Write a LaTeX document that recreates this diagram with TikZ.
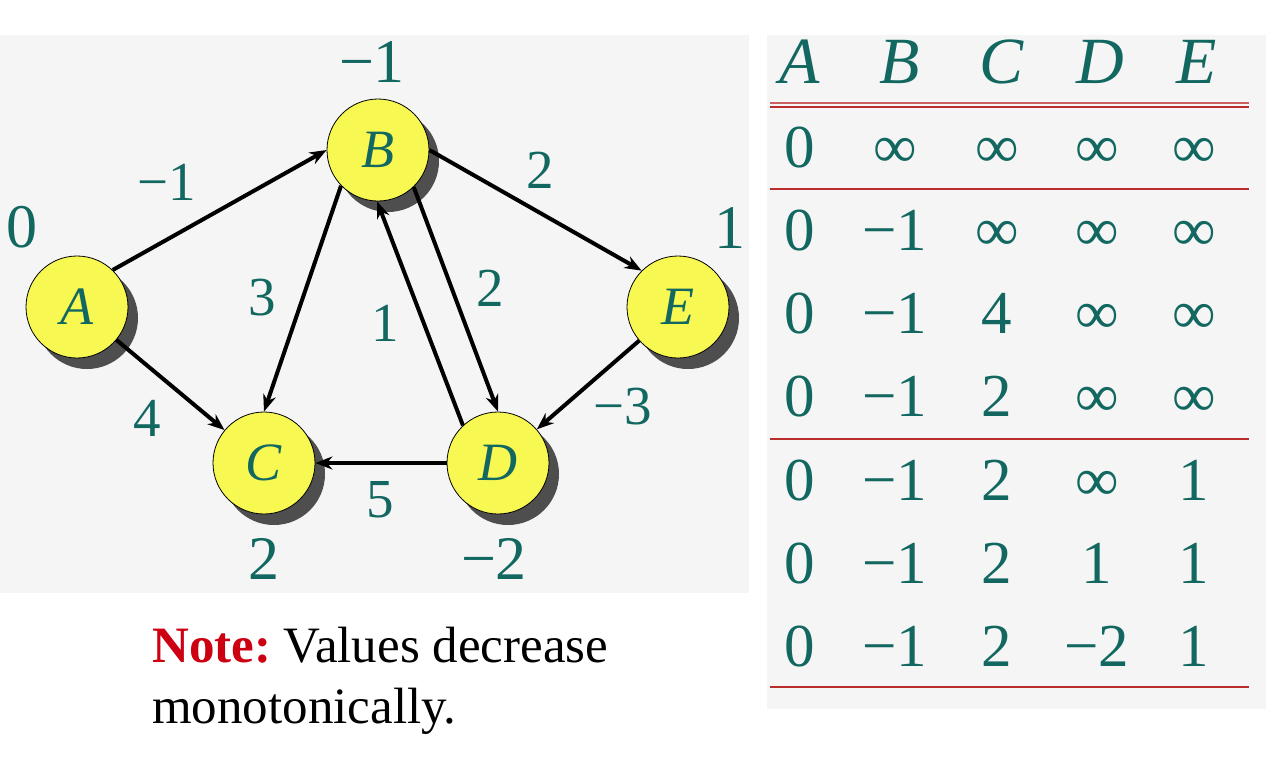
\documentclass[tikz,border=0pt]{standalone}
\usepackage{fontspec}
\setmainfont{Liberation Serif}
\usetikzlibrary{arrows.meta,shadows}
\definecolor{tealtxt}{RGB}{18,104,96}
\definecolor{ylw}{RGB}{248,248,82}
\definecolor{shd}{RGB}{78,78,78}
\definecolor{panel}{RGB}{245,245,245}
\definecolor{rulered}{RGB}{185,45,45}
\definecolor{notered}{RGB}{204,0,17}
\frenchspacing
\begin{document}
\begin{tikzpicture}[x=1pt,y=-1pt,
  vtx/.style={circle, minimum size=102pt, inner sep=0pt, fill=ylw, draw=black, line width=0.8pt,
    text=tealtxt, font=\fontsize{54}{54}\selectfont\itshape,
    general shadow={fill=shd, shadow xshift=10pt, shadow yshift=-11pt}},
  arr/.style={line width=4pt, -{Stealth[length=17pt,width=13pt]}},
  elbl/.style={text=tealtxt, inner sep=0pt, font=\fontsize{55}{55}\selectfont},
  dlbl/.style={text=tealtxt, inner sep=0pt, font=\fontsize{62}{62}\selectfont},
  cell/.style={text=tealtxt, inner sep=0pt, anchor=base, font=\fontsize{61}{61}\selectfont},
  head/.style={text=tealtxt, inner sep=0pt, anchor=base, font=\fontsize{66}{66}\selectfont\itshape},
  rl/.style={draw=rulered, line width=2pt},
  note/.style={inner sep=0pt, anchor=base west, font=\fontsize{51}{51}\selectfont}]
\useasboundingbox (0,0) rectangle (1286,772);
\fill[white] (0,0) rectangle (1286,772);
\fill[panel] (0,35) rectangle (749,593);
\fill[panel] (767,35) rectangle (1266,709);

% graph nodes
\node[vtx] (A) at (77,307) {A};
\node[vtx] (B) at (378,150) {B};
\node[vtx] (C) at (264,463) {C};
\node[vtx] (D) at (498,463) {D};
\node[vtx] (E) at (678,307) {E};

% edges
\draw[arr] (A.46) -- (B.180);
\draw[arr] (B.0) -- (E.135);
\draw[arr] (B.-136) -- (C.north);
\draw[arr] (D.133) -- (B.-91);
\draw[arr] (B.-46) -- (D.north);
\draw[arr] (A) -- (C);
\draw[arr] (E) -- (D);
\draw[arr] (D) -- (C);

% edge labels
\node[elbl] (lAB) at (167,182) {−1};
\node[elbl] (lBE) at (540,170) {2};
\node[elbl] (lBC) at (262,298) {3};
\node[elbl] (lDB) at (385,323) {1};
\node[elbl] (lBD) at (490,288) {2};
\node[elbl] (lAC) at (147,418) {4};
\node[elbl] (lDC) at (380,500) {5};
\node[elbl] (lED) at (623,407) {−3};

% distance labels
\node[dlbl] (dA) at (22,227) {0};
\node[dlbl] (dB) at (372,62) {−1};
\node[dlbl] (dC) at (264,559) {2};
\node[dlbl] (dD) at (494,559) {−2};
\node[dlbl] (dE) at (730,228) {1};

% table header
\node[head] (hA) at (800,83) {A};
\node[head] (hB) at (900,83) {B};
\node[head] (hC) at (1002,83) {C};
\node[head] (hD) at (1100,83) {D};
\node[head] (hE) at (1197,83) {E};

% table rules
\coordinate (r0a) at (770,102.5); \coordinate (r0b) at (1249,102.5);
\coordinate (r1a) at (770,106.8); \coordinate (r1b) at (1249,106.8);
\coordinate (r2a) at (770,189); \coordinate (r2b) at (1249,189);
\coordinate (r3a) at (770,439); \coordinate (r3b) at (1249,439);
\coordinate (r4a) at (770,687); \coordinate (r4b) at (1249,687);
\draw[rl, draw=rulered!75] (r0a) -- (r0b);
\draw[rl] (r1a) -- (r1b);
\draw[rl] (r2a) -- (r2b);
\draw[rl] (r3a) -- (r3b);
\draw[rl] (r4a) -- (r4b);

% table cells
\foreach \row [count=\r] in {{0,∞,∞,∞,∞},{0,−1,∞,∞,∞},{0,−1,4,∞,∞},{0,−1,2,∞,∞},{0,−1,2,∞,1},{0,−1,2,1,1},{0,−1,2,−2,1}}{
  \pgfmathsetmacro\yb{167+(\r-1)*83.3}
  \foreach \v [count=\c] in \row {
    \pgfmathsetmacro\xc{{800,895,997,1097,1194}[\c-1]}
    \node[cell] (t\r-\c) at (\xc,\yb) {\v};
  }
}

% note
\node[note] (n1) at (152,662) {\textcolor{notered}{\bfseries Note:} Values decrease};
\node[note] (n2) at (152,723) {monotonically.};
\end{tikzpicture}
\end{document}
